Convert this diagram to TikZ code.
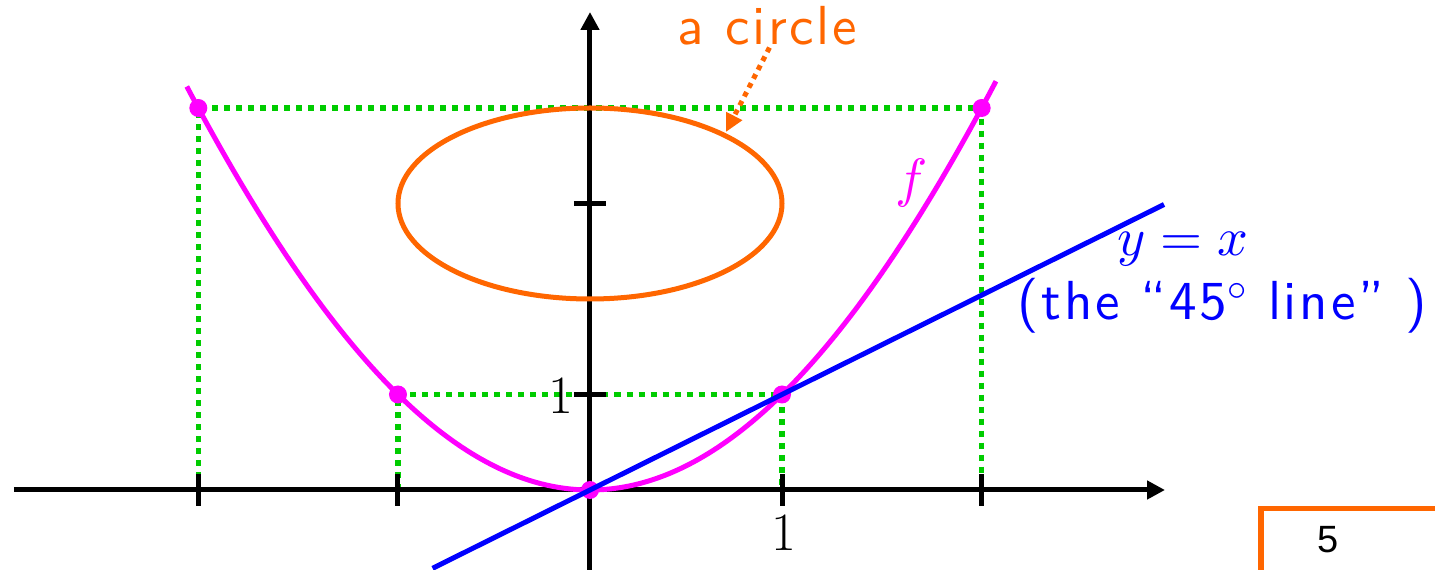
\documentclass[tikz,border=0pt]{standalone}
\usepackage{fontspec}
\DeclareFontFamily{OML}{cmm}{\skewchar\font127}
\DeclareFontShape{OML}{cmm}{m}{it}{<->cmmi10}{}
\DeclareFontFamily{OMS}{cmsy}{\skewchar\font48}
\DeclareFontShape{OMS}{cmsy}{m}{n}{<->cmsy10}{}
\DeclareFontFamily{OT1}{cmr}{\hyphenchar\font45}
\DeclareFontShape{OT1}{cmr}{m}{n}{<->cmr10}{}
\newfontfamily\slidesf[LetterSpace=5]{lmsans10-regular.otf}
\newfontfamily\pagefont{Liberation Sans}
\usetikzlibrary{arrows.meta}
\definecolor{dgreen}{RGB}{0,204,0}
\definecolor{sorange}{RGB}{255,102,0}
\definecolor{smag}{RGB}{255,0,255}
\definecolor{sblue}{RGB}{0,0,255}
\begin{document}
\begin{tikzpicture}[x=192pt,y=95.5pt,
  axis/.style={line width=5pt,black,-{Triangle[length=18pt,width=18pt]}},
  tickmark/.style={line width=5pt,black},
  guide/.style={line width=5.5pt,dgreen,dash pattern=on 6pt off 6pt},
  curve/.style={line width=5pt},
  lbl/.style={inner sep=0pt,outer sep=0pt},
  big/.style={font=\fontsize{54}{60}\selectfont},
  slide/.style={font=\slidesf\fontsize{55}{60}\selectfont}]
\useasboundingbox (-590pt,-80pt) rectangle (845pt,490pt);
% points
\coordinate (pA) at (-2.04,4);
\coordinate (pB) at (-1,1);
\coordinate (pO) at (0,0);
\coordinate (pC) at (1,1);
\coordinate (pD) at (2.04,4);
\coordinate (bA) at (-2.04,0);
\coordinate (bB) at (-1,0);
\coordinate (bC) at (1,0);
\coordinate (bD) at (2.04,0);
% guides
\draw[guide] (bA) -- (pA) -- (pD) -- (bD);
\draw[guide] (bB) -- (pB) -- (pC) -- (bC);
% axes
\coordinate (xs) at (-576pt,0pt);
\coordinate (xe) at (575pt,0pt);
\coordinate (ys) at (0pt,-82pt);
\coordinate (ye) at (0pt,478pt);
\draw[axis] (xs) -- (xe);
\draw[axis] (ys) -- (ye);
% ticks
\foreach \t in {-2.04,-1,1,2.04}
  \draw[tickmark] ([yshift=-16pt]\t,0) -- ([yshift=16pt]\t,0);
\foreach \t in {1,3}
  \draw[tickmark] ([xshift=-16pt]0,\t) -- ([xshift=16pt]0,\t);
\node[lbl,anchor=east,big] (ylab) at (-17pt,94.5pt) {1};
\node[lbl,anchor=north,big] (xlab) at (194pt,-25pt) {1};
% circle
\draw[curve,sorange] (0,3) ellipse [x radius=1, y radius=1];
% parabola
\draw[curve,smag] plot[domain=-2.1:2.115,samples=120,smooth] (\x,{1.01228*\x*\x-0.01228*\x*\x*\x*\x});
% dots
\foreach \p in {pA,pB,pO,pC,pD}
  \fill[smag] (\p) circle (9pt);
% 45 degree line
\coordinate (ls) at (-0.82,-0.82);
\coordinate (le) at (2.99,2.99);
\draw[curve,sblue] (ls) -- (le);
% labels
\node[lbl,anchor=base,text=sorange,slide] (acirc) at (177.5pt,445pt) {a circle};
\coordinate (tip) at (136pt,358pt);
\draw[sorange,line width=5pt,dash pattern=on 5pt off 5pt,-{Triangle[length=18pt,width=17pt]}] ([xshift=2pt,yshift=-2pt]acirc.south) -- (tip);
\node[lbl,anchor=base,text=smag,big] (flab) at (322pt,293pt) {$f$};
\node[lbl,anchor=base,text=sblue,big] (yx) at (593pt,234pt) {$y=x$};
\node[lbl,anchor=base,text=sblue,slide] (line45) at (632pt,170pt) {(the “45$^\circ$ line” )};
% page corner
\coordinate (c1) at (845pt,-18.5pt);
\coordinate (c2) at (671pt,-18.5pt);
\coordinate (c3) at (671pt,-82pt);
\draw[sorange,line width=5.5pt] (c1) -- (c2) -- (c3);
\node[lbl,font=\pagefont\fontsize{38}{40}\selectfont] (pg) at (738pt,-50pt) {5};
\end{tikzpicture}
\end{document}
